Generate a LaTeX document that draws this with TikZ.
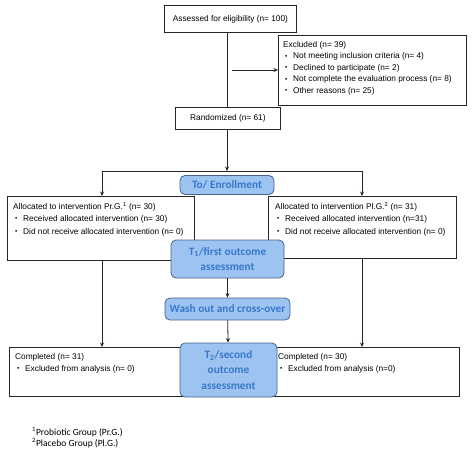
\documentclass[tikz,border=0pt]{standalone}
\usepackage{fontspec}
\setmainfont{Liberation Sans}
\newfontfamily\calibri{Carlito}
\usetikzlibrary{arrows.meta}
\definecolor{stageblue}{RGB}{157,195,240}
\definecolor{stageline}{RGB}{70,100,140}
\definecolor{stagetext}{RGB}{55,120,205}
\newcommand{\itm}{\hspace*{2pt}\makebox[8pt][l]{\raisebox{0.15ex}{\fontsize{6.5}{6.5}\selectfont\textbullet}}}

\begin{document}
\begin{tikzpicture}[x=1pt, y=-1pt, >={Stealth[length=4.5pt,width=4pt]},
    box/.style={draw=black!85, line width=0.8pt, anchor=north west, inner sep=0pt},
    txt/.style={anchor=north west, align=left, inner sep=0pt, font=\fontsize{8.3}{11.5}\selectfont},
    stage/.style={draw=stageline, fill=stageblue, rounded corners=5pt, line width=0.8pt,
      align=center, text=stagetext, inner sep=0pt, font=\calibri\bfseries\fontsize{11.3}{15.5}\selectfont},
    link/.style={draw=black!85, line width=0.8pt}]
    \useasboundingbox (0,0) rectangle (474,455);

    % Screening
    \node[box, minimum width=132, minimum height=27, font=\fontsize{8.3}{10}\selectfont] (assess) at (164,5) {Assessed for eligibility (n= 100)};
    \node[box, minimum width=188, minimum height=70] (excl) at (278,35) {};
    \node[txt] (excltxt) at (283,41) {Excluded (n= 39)\\
      \itm Not meeting inclusion criteria (n= 4)\\
      \itm Declined to participate (n= 2)\\
      \itm Not complete the evaluation process (n= 8)\\
      \itm Other reasons (n= 25)};
    \node[box, minimum width=105, minimum height=22, font=\fontsize{8.3}{10}\selectfont] (rand) at (175,107) {Randomized (n= 61)};

    % Allocation
    \node[box, minimum width=187, minimum height=64] (alloc1) at (7,196) {};
    \node[txt, font=\fontsize{8.3}{12.5}\selectfont] (alloc1txt) at (13,202) {Allocated to intervention Pr.G.\textsuperscript{1} (n= 30)\\
      \itm Received allocated intervention (n= 30)\\
      \itm Did not receive allocated intervention (n= 0)};
    \node[box, minimum width=188, minimum height=62] (alloc2) at (268,196) {};
    \node[txt, font=\fontsize{8.3}{12.5}\selectfont] (alloc2txt) at (275,202) {Allocated to intervention Pl.G.\textsuperscript{2} (n= 31)\\
      \itm Received allocated intervention (n=31)\\
      \itm Did not receive allocated intervention (n= 0)};

    % Completion
    \node[box, minimum width=190, minimum height=49] (done1) at (9,347) {};
    \node[txt, font=\fontsize{8.3}{12}\selectfont] (done1txt) at (15,353) {Completed (n= 31)\\
      \itm Excluded from analysis (n= 0)};
    \node[box, minimum width=197, minimum height=49] (done2) at (262,347) {};
    \node[txt, font=\fontsize{8.3}{12}\selectfont] (done2txt) at (278,353) {Completed (n= 30)\\
      \itm Excluded from analysis (n=0)};

    % Study stages
    \node[stage, minimum width=94, minimum height=19] (enroll) at (227,185) {To/ Enrollment};
    \node[stage, minimum width=113, minimum height=38] (t1) at (227.5,259) {T\textsubscript{1}/first outcome\\assessment};
    \node[stage, minimum width=125, minimum height=22] (wash) at (227.5,309) {Wash out and cross-over};
    \node[stage, minimum width=97, minimum height=54] (t2) at (228.5,370) {T\textsubscript{2}/second\\outcome\\assessment};

    % Connectors
    \coordinate (exclfrom) at (232,70);
    \coordinate (split) at (227,171);
    \coordinate (splitL) at (102,171);
    \coordinate (splitR) at (362,171);
    \draw[link] (rand.north -| split) -- (assess.south -| split);
    \draw[link, ->] (exclfrom) -- (exclfrom -| excl.west);
    \draw[link, ->] (rand.south -| split) -- (split);
    \draw[link] (splitL) -- (splitR);
    \draw[link, ->] (splitL) -- (splitL |- alloc1.north);
    \draw[link, ->] (splitR) -- (splitR |- alloc2.north);
    \draw[link, ->] (splitL |- alloc1.south) -- (splitL |- done1.north);
    \draw[link, ->] (splitR |- alloc2.south) -- (splitR |- done2.north);
    \draw[link, ->] (t1) -- (wash);
    \draw[link, ->] (wash) -- (t2);

    % Footnotes
    \node[anchor=west, align=left, inner sep=0pt, font=\calibri\fontsize{9.5}{11}\selectfont] (notes) at (32,438) {\textsuperscript{1}Probiotic Group (Pr.G.)\\\textsuperscript{2}Placebo Group (Pl.G.)};
\end{tikzpicture}
\end{document}
